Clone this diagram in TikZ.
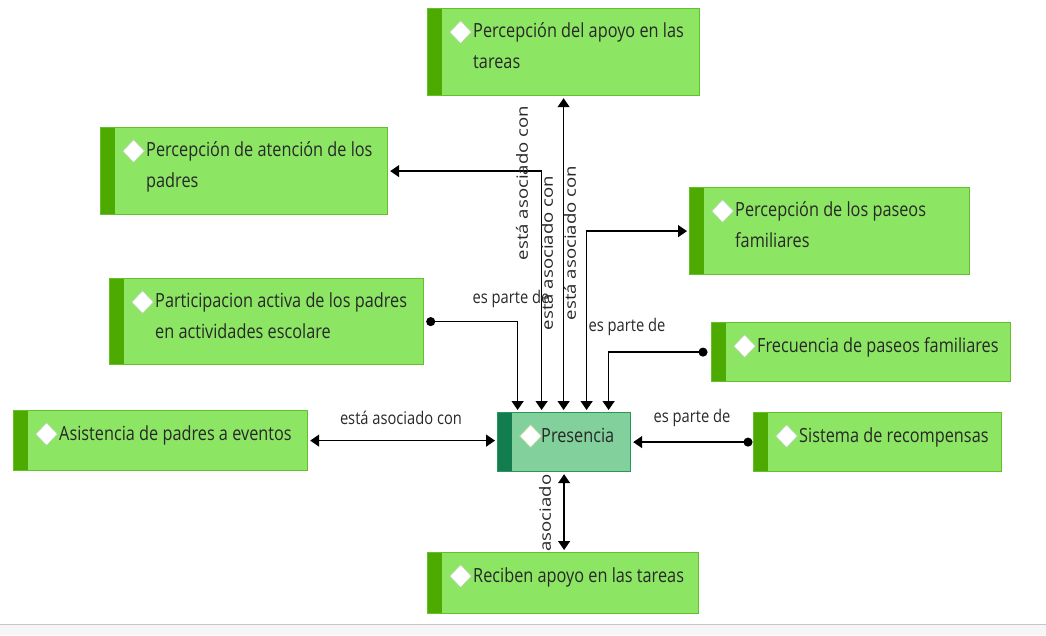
\documentclass[tikz,border=0pt]{standalone}
\usepackage{fontspec}
\setmainfont{Open Sans}
\newfontfamily\boxfont[FakeStretch=0.835]{Open Sans}
\newfontfamily\linkfont[FakeStretch=0.84]{Open Sans}
\newfontfamily\vlinkfont[FakeStretch=1.2]{Open Sans}
\usetikzlibrary{arrows.meta,positioning}

\definecolor{conceptFill}{RGB}{140,230,100}
\definecolor{conceptLine}{RGB}{100,192,40}
\definecolor{conceptBar}{RGB}{76,170,0}
\definecolor{focusFill}{RGB}{130,208,155}
\definecolor{focusLine}{RGB}{40,150,90}
\definecolor{focusBar}{RGB}{20,125,80}
\definecolor{diamondLine}{RGB}{170,215,150}
\definecolor{textGray}{RGB}{40,40,40}
\definecolor{stripGray}{RGB}{246,246,246}

\tikzset{
  bar/.style={path picture={
    \fill[#1] (path picture bounding box.north west) rectangle ([xshift=14pt]path picture bounding box.south west);
    \draw[diamondLine, fill=white, line width=0.8pt]
      ([shift={(33pt,-12pt)}]path picture bounding box.north west)
      -- ([shift={(44pt,-23.5pt)}]path picture bounding box.north west)
      -- ([shift={(33pt,-35pt)}]path picture bounding box.north west)
      -- ([shift={(22pt,-23.5pt)}]path picture bounding box.north west) -- cycle;
  }}
}

\begin{document}
\begin{tikzpicture}[x=1pt, y=-1pt]
  \tikzstyle{concept} = [draw=conceptLine, fill=conceptFill, line width=1.2pt, rectangle, anchor=north west, inner sep=0pt, bar=conceptBar]
  \tikzstyle{focus} = [concept, draw=focusLine, fill=focusFill, bar=focusBar]
  \tikzstyle{conceptText} = [anchor=base west, align=left, inner sep=0pt, text=textGray, font={\boxfont\fontsize{19.5}{31}\selectfont}]
  \tikzstyle{link} = [black, line width=1.4pt, shorten >=2pt]
  \tikzstyle{assoc} = [link, shorten <=2pt, {Triangle[width=12pt,length=9pt]}-{Triangle[width=12pt,length=9pt]}]
  \tikzstyle{part} = [link, {Circle[length=9pt]}-{Triangle[width=12pt,length=9pt]}]
  \tikzstyle{linkLabel} = [inner sep=0pt, text=textGray, font={\linkfont\fontsize{17.5}{20}\selectfont}]
  \tikzstyle{linkLabelV} = [inner sep=0pt, rotate=90, text=textGray, font={\vlinkfont\fontsize{15.5}{18}\selectfont}]

  \useasboundingbox (0,0) rectangle (1046,635);
  \fill[stripGray] (0,624) rectangle (1046,635);
  \draw[gray!45, line width=1pt] (0,624) -- (1046,624);

  \node[concept, minimum width=272pt, minimum height=87pt] (apoyo) at (427,8) {};
  \node[concept, minimum width=287pt, minimum height=87pt] (atencion) at (100,127) {};
  \node[concept, minimum width=280pt, minimum height=87pt] (paseos) at (689,187) {};
  \node[concept, minimum width=314pt, minimum height=86pt] (participacion) at (109,278) {};
  \node[concept, minimum width=299pt, minimum height=59pt] (frecuencia) at (711,322) {};
  \node[concept, minimum width=294pt, minimum height=60pt] (asistencia) at (13,410) {};
  \node[focus, minimum width=133pt, minimum height=59pt] (pres) at (497,412) {};
  \node[concept, minimum width=248pt, minimum height=59pt] (sistema) at (753,412) {};
  \node[concept, minimum width=271pt, minimum height=61pt] (reciben) at (427,552) {};

  % two-line texts sit on the baseline of their last line
  \node[conceptText] (apoyoText) at ([xshift=46pt, yshift=-60pt]apoyo.north west) {Percepción del apoyo en las\\tareas};
  \node[conceptText] (atencionText) at ([xshift=46pt, yshift=-60pt]atencion.north west) {Percepción de atención de los\\padres};
  \node[conceptText] (paseosText) at ([xshift=46pt, yshift=-60pt]paseos.north west) {Percepción de los paseos\\familiares};
  \node[conceptText] (participacionText) at ([xshift=46pt, yshift=-60pt]participacion.north west) {Participacion activa de los padres\\en actividades escolare};
  \node[conceptText] (frecuenciaText) at ([xshift=46pt, yshift=-30pt]frecuencia.north west) {Frecuencia de paseos familiares};
  \node[conceptText] (asistenciaText) at ([xshift=46pt, yshift=-30pt]asistencia.north west) {Asistencia de padres a eventos};
  \node[conceptText] (presText) at ([xshift=44pt, yshift=-30pt]pres.north west) {Presencia};
  \node[conceptText] (sistemaText) at ([xshift=46pt, yshift=-30pt]sistema.north west) {Sistema de recompensas};
  \node[conceptText] (recibenText) at ([xshift=46pt, yshift=-30pt]reciben.north west) {Reciben apoyo en las tareas};

  % links into Presencia
  \draw[assoc] (apoyo.south) -- (apoyo.south |- pres.north);
  \draw[assoc] (atencion.east) -| ([xshift=-22.5pt]pres.north);
  \draw[assoc] (paseos.west) -| ([xshift=22.5pt]pres.north);
  \draw[part] ([xshift=2pt]participacion.east) -| ([xshift=-46.5pt]pres.north);
  \draw[part] ([xshift=-3.5pt]frecuencia.west) -| ([xshift=44.5pt]pres.north);
  \draw[assoc] (asistencia.east) -- (asistencia.east -| pres.west);
  \draw[part] ([xshift=-0.5pt]sistema.west) -- (pres.east);
  \draw[assoc] (pres.south) -- (pres.south |- reciben.north);

  \node[linkLabel] (lAsistencia) at (401,418) {está asociado con};
  \node[linkLabel] (lSistema) at (692,418) {es parte de};
  \node[linkLabel] (lParticipacion) at (511,299) {es parte de};
  \node[linkLabel] (lFrecuencia) at (627,327) {es parte de};
  \node[linkLabelV] (lAtencion) at (522,183) {está asociado con};
  \node[linkLabelV] (lApoyo) at (547,253) {está asociado con};
  \node[linkLabelV] (lPaseos) at (570,243) {está asociado con};
  \node[linkLabelV] (lReciben) at (545,513) {asociado};
\end{tikzpicture}
\end{document}
